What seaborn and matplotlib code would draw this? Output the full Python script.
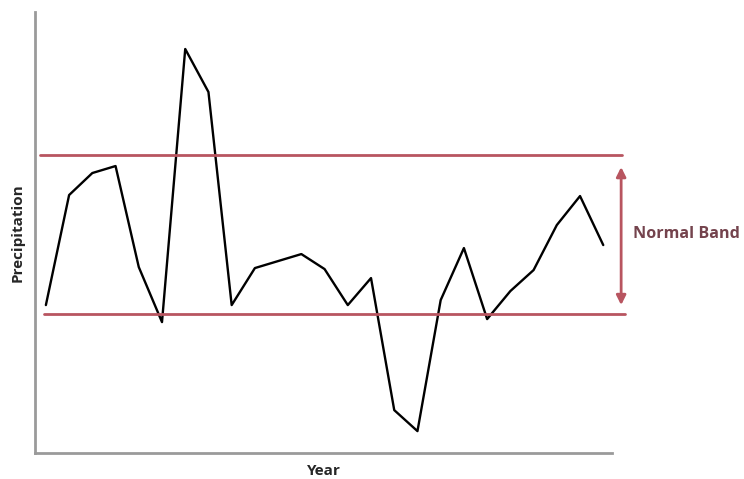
import numpy as np
import pandas as pd
import matplotlib
matplotlib.use("Agg")
import matplotlib.pyplot as plt
import seaborn as sns

# Data (arbitrary precipitation units)
years = list(range(1990, 2015))
precip = [148, 258, 280, 287, 186, 131, 404, 361, 148, 185, 192, 199, 184,
          148, 175, 43, 22, 153, 205, 134, 162, 183, 228, 257, 208]
band_upper = 298
band_lower = 139
band_label = "Normal Band"

band_color = "#b85560"
label_color = "#74434d"

sns.set_style("white")
plt.rcParams['font.family'] = ['Open Sans', 'DejaVu Sans']

df = pd.DataFrame({"Year": years, "Precipitation": precip})

fig = plt.figure(figsize=(7.44, 4.79), dpi=100)
ax = fig.add_axes([0.047, 0.054, 0.776, 0.921])

sns.lineplot(data=df, x="Year", y="Precipitation", color="black", lw=1.7, ax=ax)

ax.set_xlim(years[0] - 0.47, years[-1] + 0.39)
ax.set_ylim(0, 441)

# normal band lines run a bit past the axis end
x0, x1 = years[0] - 0.26, years[-1] + 0.82
ax.plot([x0, x1], [band_upper, band_upper], color=band_color, lw=2, clip_on=False)
ax.plot([x0 + 0.17, x1 + 0.1], [band_lower, band_lower], color=band_color, lw=2, clip_on=False)

xa = years[-1] + 0.77
ax.annotate("", xy=(xa, band_upper - 12), xytext=(xa, band_lower + 9),
            arrowprops=dict(arrowstyle="<|-|>", color=band_color, lw=2,
                            mutation_scale=14, shrinkA=0, shrinkB=0),
            annotation_clip=False)
ax.text(years[-1] + 1.28, (band_upper + band_lower) / 2 + 1, band_label,
        color=label_color, fontsize=11.6, fontweight="bold", va="center", ha="left",
        clip_on=False)

ax.set_xticks([])
ax.set_yticks([])
ax.set_xlabel("Year", fontsize=11, fontweight="bold", labelpad=8)
ax.set_ylabel("Precipitation", fontsize=11, fontweight="bold")
ax.yaxis.set_label_coords(-0.018, 0.5)

sns.despine(ax=ax)
for side in ["left", "bottom"]:
    ax.spines[side].set_color("#9a9a9a")
    ax.spines[side].set_linewidth(2)

fig.savefig("out.png", dpi=100)
